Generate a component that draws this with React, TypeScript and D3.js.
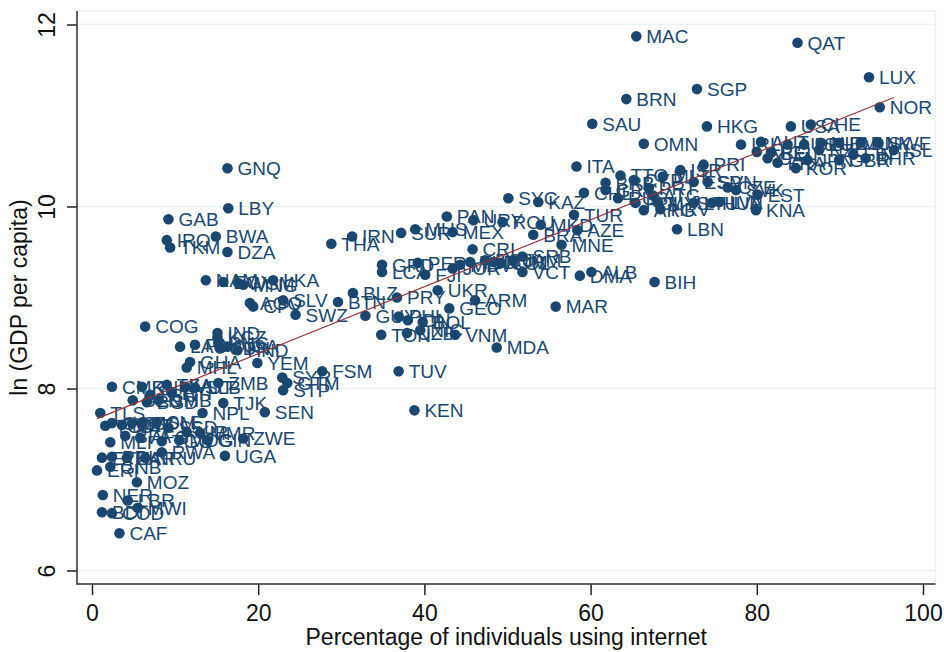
import React, { useEffect, useRef } from "react";
import * as d3 from "d3";

// country codes, internet use (%) and ln GDP per capita
const codes = [
  "MAC", "QAT", "LUX", "NOR", "SGP", "BRN", "SAU", "HKG", "OMN", "USA",
  "CHE", "IRL", "AUT", "AUS", "DEU", "NLD", "BMU", "DNK", "SWE", "ISL",
  "FIN", "BEL", "FRA", "CAN", "KOR", "JPN", "GBR", "NZL", "ARE", "BHR",
  "PRI", "ITA", "ISR", "TTO", "CYP", "MLT", "ESP", "SVN", "CZE", "SVK",
  "EST", "KNA", "PRT", "GRC", "CHL", "RUS", "POL", "ARG", "MYS", "HRV",
  "LTU", "HUN", "LVA", "ATG", "BRB", "SYC", "KAZ", "LBN", "BIH", "ALB",
  "DMA", "MNE", "AZE", "TUR", "ROU", "MKD", "BRA", "SRB", "VCT", "JAM",
  "COL", "DOM", "ECU", "TUN", "MDV", "JOR", "CRI", "PAN", "URY", "MEX",
  "MUS", "SUR", "IRN", "THA", "GRD", "LCA", "PER", "FJI", "UKR", "PRY",
  "BLZ", "BTN", "ARM", "GEO", "GUY", "PHL", "IDN", "BOL", "NIC", "TON",
  "UZB", "VNM", "MDA", "MAR", "FSM", "TUV", "KEN", "SWZ", "SLV", "AGO",
  "CPV", "LKA", "MNG", "NAM", "EGY", "WSM", "GNQ", "LBY", "GAB", "IRQ",
  "TKM", "BWA", "DZA", "COG", "IND", "KGZ", "PNG", "SDN", "NGA", "HND",
  "LAO", "PAK", "GHA", "MHL", "YEM", "ZMB", "STP", "SYR", "GTM", "TJK",
  "SEN", "NPL", "CMR", "KHM", "LSO", "TZA", "HTI", "VUT", "SLB", "BEN",
  "BGD", "GMB", "TLS", "TCD", "COM", "MRT", "CIV", "SOM", "SLE", "SSD",
  "KIR", "MMR", "MLI", "BFA", "AFG", "TGO", "MDG", "GIN", "ZWE", "ETH",
  "PRK", "ZAR", "NRU", "RWA", "UGA", "ERI", "GNB", "MOZ", "NER", "LBR",
  "MWI", "BDI", "COD", "CAF",
];

const internet = [
  65.5, 84.9, 93.5, 94.8, 72.8, 64.3, 60.2, 74.0, 66.4, 84.1,
  86.5, 78.1, 80.5, 83.7, 85.7, 87.7, 89.9, 92.5, 94.6, 96.5,
  91.6, 81.7, 82.5, 81.3, 84.7, 86.1, 89.9, 87.5, 80.0, 93.1,
  73.6, 58.3, 70.8, 63.6, 65.2, 68.7, 72.4, 74.1, 76.5, 77.5,
  80.1, 79.9, 67.0, 61.8, 59.2, 63.3, 65.4, 66.4, 68.1, 68.4,
  72.4, 74.6, 75.5, 67.5, 61.8, 50.1, 53.7, 70.4, 67.7, 60.1,
  58.7, 56.5, 58.4, 58.0, 49.4, 54.0, 53.1, 51.8, 51.8, 50.7,
  49.2, 48.3, 47.3, 45.5, 44.3, 43.4, 45.8, 42.7, 45.9, 43.4,
  38.9, 37.2, 31.3, 28.8, 34.9, 34.9, 39.2, 40.1, 41.6, 36.7,
  31.4, 29.6, 46.1, 43.0, 32.9, 36.9, 38.0, 39.8, 39.5, 34.8,
  37.9, 43.7, 48.7, 55.8, 27.7, 36.9, 38.8, 24.5, 23.0, 19.0,
  19.4, 21.8, 18.2, 13.7, 15.8, 17.6, 16.3, 16.4, 9.2, 9.0,
  9.4, 14.9, 16.3, 6.4, 15.1, 15.1, 15.2, 15.4, 16.3, 17.5,
  10.6, 12.4, 11.8, 11.4, 19.9, 15.2, 23.0, 22.9, 23.5, 15.8,
  20.8, 13.3, 2.4, 6.0, 7.0, 9.0, 9.6, 11.2, 12.4, 4.9,
  6.6, 8.0, 1.0, 1.6, 2.4, 3.6, 4.8, 6.1, 7.8, 9.2,
  11.4, 13.0, 2.2, 4.0, 5.8, 8.4, 10.5, 13.9, 18.2, 1.2,
  2.4, 4.2, 6.4, 8.4, 16.0, 0.6, 2.2, 5.4, 1.3, 4.3,
  5.5, 1.2, 2.4, 3.3,
];

const lnGdp = [
  11.87, 11.8, 11.42, 11.09, 11.29, 11.18, 10.91, 10.88, 10.69, 10.88,
  10.9, 10.68, 10.71, 10.68, 10.68, 10.7, 10.7, 10.7, 10.7, 10.62,
  10.57, 10.59, 10.48, 10.53, 10.42, 10.51, 10.51, 10.62, 10.6, 10.53,
  10.46, 10.44, 10.4, 10.34, 10.29, 10.33, 10.27, 10.27, 10.21, 10.18,
  10.13, 9.96, 10.2, 10.18, 10.15, 10.09, 10.04, 9.96, 10.04, 9.97,
  10.04, 10.04, 10.05, 10.12, 10.26, 10.09, 10.05, 9.75, 9.17, 9.28,
  9.24, 9.58, 9.74, 9.91, 9.83, 9.8, 9.69, 9.45, 9.28, 9.41,
  9.38, 9.39, 9.41, 9.39, 9.36, 9.32, 9.53, 9.89, 9.85, 9.72,
  9.75, 9.71, 9.67, 9.59, 9.36, 9.28, 9.38, 9.25, 9.08, 9.0,
  9.05, 8.95, 8.97, 8.88, 8.8, 8.79, 8.75, 8.73, 8.64, 8.59,
  8.61, 8.59, 8.45, 8.9, 8.19, 8.19, 7.76, 8.81, 8.97, 8.94,
  8.9, 9.19, 9.14, 9.19, 9.17, 9.16, 10.42, 9.98, 9.86, 9.63,
  9.55, 9.67, 9.5, 8.68, 8.61, 8.56, 8.5, 8.44, 8.46, 8.42,
  8.46, 8.48, 8.29, 8.23, 8.28, 8.06, 7.98, 8.12, 8.06, 7.84,
  7.74, 7.73, 8.02, 8.02, 7.93, 8.04, 7.95, 8.02, 8.01, 7.87,
  7.85, 7.87, 7.73, 7.59, 7.62, 7.6, 7.62, 7.62, 7.63, 7.57,
  7.52, 7.51, 7.41, 7.48, 7.46, 7.42, 7.43, 7.43, 7.45, 7.24,
  7.25, 7.24, 7.24, 7.3, 7.26, 7.1, 7.14, 6.97, 6.83, 6.77,
  6.69, 6.64, 6.63, 6.41,
];

const xTicks = [0, 20, 40, 60, 80, 100];
const yTicks = [6, 8, 10, 12];

const W = 944;
const H = 652;
const FONT = "'Liberation Sans', Arial, sans-serif";
const NAVY = "#1a476f";
const GRID = "#eaf2f3";

export default function App() {
  const svgRef = useRef<SVGSVGElement>(null);

  useEffect(() => {
    const svg = d3.select(svgRef.current);
    svg.selectAll("*").remove();

    const left = 77, right = 935.5, top = 11, bottom = 584;
    const x = d3.scaleLinear().domain([0, 100]).range([92, 923]);
    const y = d3.scaleLinear().domain([6, 12]).range([570.5, 24.5]);

    // plot region
    svg.append("rect")
      .attr("x", left).attr("y", top)
      .attr("width", right - left).attr("height", bottom - top)
      .attr("fill", "#fff").attr("stroke", GRID).attr("stroke-width", 1.5);

    svg.append("g").selectAll("line").data(yTicks).join("line")
      .attr("x1", left).attr("x2", right)
      .attr("y1", d => y(d)).attr("y2", d => y(d))
      .attr("stroke", GRID).attr("stroke-width", 1.5);

    // axes
    const gx = svg.append("g")
      .attr("transform", `translate(0,${bottom})`)
      .call(d3.axisBottom(x).tickValues(xTicks).tickFormat(d3.format("d")).tickSize(11).tickPadding(10));
    gx.select(".domain").remove();
    gx.selectAll("line").attr("stroke", "#222").attr("stroke-width", 1.5);
    gx.selectAll("text")
      .attr("font-family", FONT).attr("font-size", 23).attr("fill", "#111");

    const gy = svg.append("g")
      .attr("transform", `translate(${left},0)`)
      .call(d3.axisLeft(y).tickValues(yTicks).tickFormat(d3.format("d")).tickSize(10));
    gy.select(".domain").remove();
    gy.selectAll("line").attr("stroke", "#222").attr("stroke-width", 1.5);
    gy.selectAll("text")
      .attr("x", null).attr("dy", null)
      .attr("text-anchor", "middle")
      .attr("transform", "translate(-22,0) rotate(-90)")
      .attr("font-family", FONT).attr("font-size", 23).attr("fill", "#111");

    svg.append("line")
      .attr("x1", left).attr("x2", left).attr("y1", top).attr("y2", bottom + 0.75)
      .attr("stroke", "#333").attr("stroke-width", 1.5);
    svg.append("line")
      .attr("x1", left).attr("x2", right).attr("y1", bottom).attr("y2", bottom)
      .attr("stroke", "#333").attr("stroke-width", 1.5);

    // axis titles
    svg.append("text")
      .attr("x", (left + right) / 2).attr("y", 645)
      .attr("text-anchor", "middle")
      .attr("font-family", FONT).attr("font-size", 23).attr("fill", "#111")
      .text("Percentage of individuals using internet");
    svg.append("text")
      .attr("transform", `translate(27,${(top + bottom) / 2}) rotate(-90)`)
      .attr("text-anchor", "middle")
      .attr("font-family", FONT).attr("font-size", 23).attr("fill", "#111")
      .text("ln (GDP per capita)");

    const data = codes.map((c, i) => ({ code: c, x: internet[i], y: lnGdp[i] }));

    // points + labels
    const pts = svg.append("g");
    pts.selectAll("circle").data(data).join("circle")
      .attr("cx", d => x(d.x)).attr("cy", d => y(d.y))
      .attr("r", 5.3).attr("fill", NAVY);
    pts.selectAll("text").data(data).join("text")
      .attr("x", d => x(d.x) + 10).attr("y", d => y(d.y))
      .attr("dy", "0.36em")
      .attr("font-family", FONT).attr("font-size", 19).attr("fill", NAVY)
      .text(d => d.code);

    // linear fit
    const mx = d3.mean(internet) as number;
    const my = d3.mean(lnGdp) as number;
    const sxy = d3.sum(internet, (v, i) => (v - mx) * (lnGdp[i] - my));
    const sxx = d3.sum(internet, v => (v - mx) * (v - mx));
    const slope = sxy / sxx;
    const icpt = my - slope * mx;
    const [x0, x1] = d3.extent(internet) as [number, number];
    svg.append("path")
      .datum([x0, x1])
      .attr("d", d3.line<number>().x(v => x(v)).y(v => y(icpt + slope * v)))
      .attr("fill", "none").attr("stroke", "#90353b").attr("stroke-width", 1.2);
  }, []);

  return (
    <svg
      ref={svgRef}
      width={W}
      height={H}
      style={{ position: "absolute", left: 0, top: 0, background: "#fff" }}
    />
  );
}
